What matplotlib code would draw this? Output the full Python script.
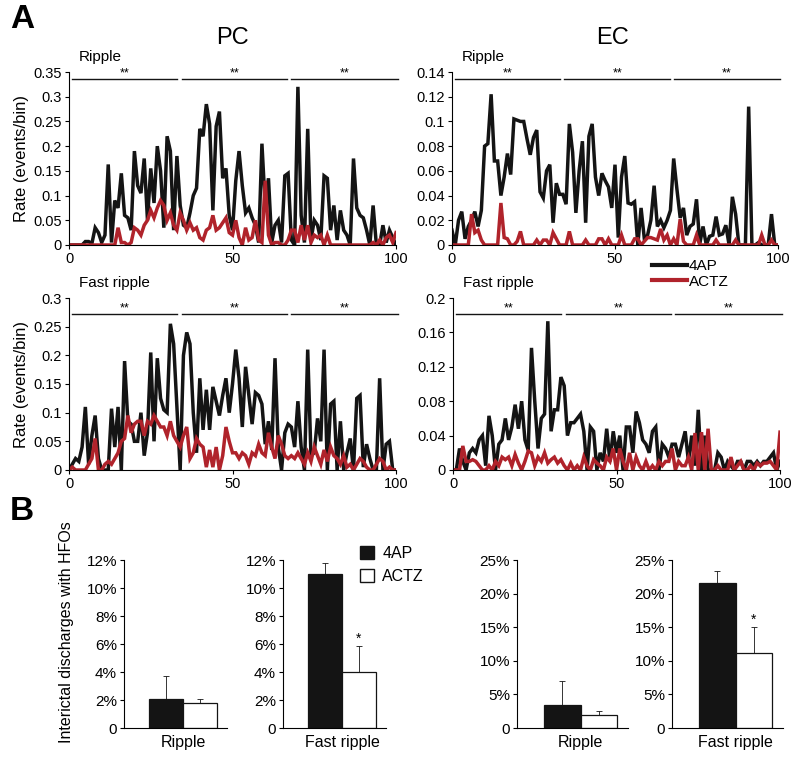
"""
HFO rate per bin (PC / EC) and fraction of interictal discharges with HFOs
"""

import numpy as np
import matplotlib
matplotlib.use("Agg")
import matplotlib.pyplot as plt
from matplotlib.lines import Line2D
from matplotlib.patches import Patch

plt.rcParams["font.family"] = ["Liberation Sans", "DejaVu Sans"]
plt.rcParams["font.size"] = 10.5

BLACK = "#141414"
RED = "#b0232b"

# bins 0..100
bins = np.arange(101)

pc_ripple_4ap = [
    0, 0, 0, 0, 0, 0.007, 0.007, 0.003, 0.035, 0.025,
    0.005, 0.02, 0.163, 0.005, 0.09, 0.075, 0.145, 0.06, 0.055, 0.03,
    0.19, 0.12, 0.105, 0.175, 0.05, 0.155, 0.085, 0.2, 0.15, 0.035,
    0.22, 0.19, 0.03, 0.18, 0.08, 0.04, 0.035, 0.065, 0.1, 0.115,
    0.235, 0.22, 0.285, 0.245, 0.07, 0.24, 0.27, 0.135, 0.155, 0.06,
    0.03, 0.13, 0.19, 0.12, 0.065, 0.075, 0.055, 0.04, 0.005, 0.205,
    0.08, 0.135, 0.005, 0.04, 0.05, 0.005, 0.14, 0.145, 0.01, 0.0,
    0.32, 0.06, 0.005, 0.235, 0.01, 0.05, 0.04, 0.01, 0.14, 0.135,
    0.03, 0.08, 0.01, 0.07, 0.03, 0.02, 0.0, 0.175, 0.075, 0.06,
    0.055, 0.03, 0.0, 0.08, 0.0, 0.0, 0.04, 0.005, 0.03, 0.015,
    0.0,
]
pc_ripple_actz = [
    0, 0, 0, 0, 0, 0, 0, 0, 0, 0,
    0, 0, 0, 0, 0, 0.035, 0.005, 0.005, 0.0, 0.005,
    0.035, 0.03, 0.02, 0.04, 0.05, 0.07, 0.055, 0.075, 0.09, 0.08,
    0.05, 0.065, 0.04, 0.03, 0.065, 0.05, 0.03, 0.045, 0.03, 0.035,
    0.015, 0.01, 0.03, 0.035, 0.06, 0.03, 0.035, 0.045, 0.055, 0.025,
    0.02, 0.05, 0.015, 0.0, 0.035, 0.01, 0.015, 0.05, 0.01, 0.005,
    0.13, 0.02, 0.0, 0.005, 0.005, 0.0, 0.0, 0.01, 0.03, 0.03,
    0.005, 0.04, 0.01, 0.04, 0.005, 0.02, 0.015, 0.02, 0.0, 0.02,
    0, 0, 0, 0, 0, 0, 0, 0, 0, 0,
    0, 0, 0, 0.005, 0.0, 0.01, 0.0, 0.015, 0.02, 0.005,
    0.025,
]

ec_ripple_4ap = [
    0.012, 0.0, 0.02, 0.027, 0.005, 0.015, 0.02, 0.027, 0.015, 0.028,
    0.08, 0.082, 0.122, 0.068, 0.068, 0.04, 0.055, 0.074, 0.057, 0.102,
    0.101, 0.1, 0.1, 0.086, 0.073, 0.087, 0.093, 0.043, 0.038, 0.06,
    0.065, 0.018, 0.05, 0.041, 0.041, 0.033, 0.098, 0.075, 0.026, 0.06,
    0.084, 0.018, 0.088, 0.098, 0.055, 0.04, 0.058, 0.052, 0.047, 0.03,
    0.065, 0.006, 0.055, 0.072, 0.034, 0.033, 0.035, 0.0, 0.03, 0.005,
    0.008, 0.02, 0.048, 0.015, 0.02, 0.014, 0.02, 0.028, 0.07, 0.045,
    0.022, 0.03, 0.008, 0.015, 0.017, 0.037, 0.001, 0.015, 0.0, 0.007,
    0.008, 0.023, 0.008, 0.009, 0.016, 0.0, 0.039, 0.025, 0.0, 0.0,
    0.0, 0.112, 0.0, 0.0, 0.002, 0.0, 0.0, 0.0, 0.025, 0.0,
    0.0,
]
ec_ripple_actz = [
    0, 0, 0, 0, 0, 0, 0.025, 0.01, 0.012, 0.004,
    0, 0, 0, 0, 0, 0.034, 0.006, 0.005, 0.0, 0.0,
    0.003, 0.011, 0.0, 0, 0, 0, 0.004, 0.0, 0.004, 0.004,
    0.0, 0.01, 0.005, 0, 0, 0, 0.011, 0.0, 0, 0,
    0, 0.004, 0, 0, 0, 0.005, 0.005, 0, 0.005, 0.0,
    0.0, 0, 0.008, 0.0, 0, 0, 0.005, 0.005, 0, 0.003,
    0.006, 0.006, 0.005, 0.004, 0.013, 0.004, 0.008, 0.0, 0.005, 0.0,
    0.021, 0.003, 0, 0, 0, 0.008, 0, 0, 0, 0,
    0, 0.004, 0, 0, 0, 0, 0, 0.004, 0, 0,
    0, 0, 0, 0, 0, 0.008, 0.0, 0, 0.004, 0,
    0,
]

pc_fast_4ap = [
    0, 0.01, 0.02, 0.015, 0.04, 0.11, 0.01, 0.06, 0.095, 0.02,
    0.0, 0.0, 0.0, 0.107, 0.04, 0.11, 0.0, 0.19, 0.085, 0.08,
    0.05, 0.05, 0.1, 0.025, 0.065, 0.205, 0.05, 0.195, 0.125, 0.105,
    0.1, 0.255, 0.22, 0.11, 0.0, 0.2, 0.24, 0.22, 0.1, 0.03,
    0.16, 0.07, 0.14, 0.07, 0.145, 0.12, 0.095, 0.13, 0.16, 0.1,
    0.15, 0.21, 0.16, 0.075, 0.18, 0.13, 0.08, 0.135, 0.13, 0.115,
    0.045, 0.085, 0.035, 0.195, 0.04, 0.0, 0.065, 0.08, 0.075, 0.04,
    0.12, 0.04, 0.0, 0.21, 0.025, 0.03, 0.09, 0.05, 0.21, 0.0,
    0.115, 0.12, 0.0, 0.085, 0.0, 0.03, 0.055, 0.0, 0.125, 0.13,
    0.005, 0.045, 0.02, 0.0, 0.0, 0.16, 0.0, 0.045, 0.05, 0.0,
    0.0,
]
pc_fast_actz = [
    0, 0.005, 0.0, 0.0, 0.0, 0.0, 0.01, 0.02, 0.055, 0.0,
    0.0, 0.01, 0.015, 0.01, 0.02, 0.03, 0.05, 0.055, 0.095, 0.065,
    0.08, 0.085, 0.085, 0.06, 0.085, 0.08, 0.095, 0.085, 0.075, 0.075,
    0.06, 0.085, 0.06, 0.05, 0.04, 0.06, 0.075, 0.02, 0.03, 0.055,
    0.045, 0.04, 0.005, 0.035, 0.005, 0.04, 0.0, 0.025, 0.075, 0.05,
    0.03, 0.03, 0.02, 0.03, 0.025, 0.01, 0.03, 0.025, 0.045, 0.03,
    0.025, 0.065, 0.04, 0.02, 0.06, 0.045, 0.025, 0.02, 0.025, 0.02,
    0.03, 0.02, 0.01, 0.03, 0.015, 0.04, 0.025, 0.01, 0.035, 0.015,
    0.04, 0.025, 0.02, 0.01, 0.025, 0.005, 0.01, 0.0, 0.01, 0.02,
    0.015, 0.005, 0.0, 0.0, 0.01, 0.02, 0.015, 0.0, 0.005, 0.0,
    0.0,
]

ec_fast_4ap = [
    0.0, 0.0, 0.025, 0.01, 0.0, 0.02, 0.025, 0.02, 0.035, 0.04,
    0.005, 0.063, 0.04, 0.0, 0.03, 0.035, 0.06, 0.035, 0.05, 0.076,
    0.048, 0.08, 0.035, 0.023, 0.142, 0.08, 0.025, 0.06, 0.065, 0.173,
    0.045, 0.07, 0.07, 0.108, 0.098, 0.04, 0.055, 0.055, 0.06, 0.065,
    0.045, 0.0, 0.05, 0.045, 0.0, 0.02, 0.01, 0.048, 0.01, 0.045,
    0.02, 0.04, 0.0, 0.05, 0.05, 0.02, 0.068, 0.055, 0.035, 0.03,
    0.02, 0.045, 0.05, 0.0, 0.03, 0.025, 0.015, 0.03, 0.03, 0.015,
    0.03, 0.045, 0.01, 0.04, 0.005, 0.07, 0.0, 0.04, 0.0, 0.0,
    0.0, 0.02, 0.015, 0.0, 0.01, 0.005, 0.0, 0.01, 0.01, 0.0,
    0.01, 0.01, 0.005, 0.01, 0.005, 0.01, 0.01, 0.015, 0.02, 0.0,
    0.01,
]
ec_fast_actz = [
    0, 0, 0.0, 0.028, 0.01, 0.01, 0.012, 0.01, 0.005, 0.0,
    0.0, 0.005, 0.0, 0.01, 0.005, 0.015, 0.012, 0.015, 0.005, 0.018,
    0.008, 0.0, 0.01, 0.022, 0.02, 0.005, 0.015, 0.01, 0.02, 0.008,
    0.012, 0.015, 0.008, 0.012, 0.005, 0.0, 0.008, 0.0, 0.005, 0.0,
    0.015, 0.005, 0.0, 0.012, 0.008, 0.005, 0.0, 0.015, 0.01, 0.025,
    0.0, 0.025, 0.01, 0.0, 0.02, 0.0, 0.015, 0.005, 0.0, 0.01,
    0.0, 0.005, 0.0, 0.01, 0.005, 0.01, 0.01, 0.025, 0.0, 0.01,
    0.005, 0.005, 0.015, 0.0, 0.043, 0.0, 0.044, 0.0, 0.048, 0.0,
    0.0, 0.005, 0.0, 0.0, 0.0, 0.015, 0.0, 0.005, 0.01, 0.0,
    0.0, 0.005, 0.0, 0.008, 0.005, 0.008, 0.008, 0.01, 0.005, 0.0,
    0.044,
]

# significance segments (bin ranges) over each third of the recording
sig_segments = [(1, 33), (34.5, 66.8), (68, 100.5)]

# panel B: mean and upper error (fraction)
groups = ["4AP", "ACTZ"]
pc_ripple_mean = [0.0205, 0.018]
pc_ripple_err = [0.0165, 0.003]
pc_fast_mean = [0.110, 0.040]
pc_fast_err = [0.008, 0.0185]
ec_ripple_mean = [0.034, 0.020]
ec_ripple_err = [0.036, 0.006]
ec_fast_mean = [0.216, 0.111]
ec_fast_err = [0.018, 0.039]


def px(left, top, right, bottom):
    # pixel box -> figure fraction rect
    W, H = 800.0, 757.0
    return [left / W, 1 - bottom / H, (right - left) / W, (bottom - top) / H]


def style_axes(ax):
    for s in ["top", "right"]:
        ax.spines[s].set_visible(False)
    ax.tick_params(direction="out", length=3, width=0.8, pad=2)


def rate_panel(ax, y4, ya, ymax, ystep, label, sig_y, yfmt):
    ax.plot(bins, y4, color=BLACK, lw=2.5, solid_joinstyle="miter")
    ax.plot(bins, ya, color=RED, lw=2.5, solid_joinstyle="miter")
    ax.set_xlim(0, 100)
    ax.set_ylim(0, ymax)
    ax.set_xticks([0, 50, 100])
    ticks = np.arange(0, ymax + ystep / 2, ystep)
    ax.set_yticks(ticks)
    ax.set_yticklabels([yfmt(t) for t in ticks])
    style_axes(ax)
    ax.text(0.03, 1.045, label, transform=ax.transAxes, fontsize=11, ha="left", va="bottom")
    for a, b in sig_segments:
        ax.plot([a, b], [sig_y, sig_y], color=BLACK, lw=1.0, clip_on=False)
        ax.text((a + b) / 2, sig_y, "**", ha="center", va="bottom", fontsize=9)


def fmt_dec(t):
    if t == 0:
        return "0"
    return ("%.2f" % t).rstrip("0").rstrip(".")


def bar_panel(ax, means, errs, ymax, ystep, label, star):
    ax.bar([0, 1], means, width=1.0, color=[BLACK, "white"], edgecolor=BLACK,
           linewidth=0.9, zorder=2)
    ax.errorbar([0, 1], means, yerr=[[0, 0], errs], fmt="none", ecolor=BLACK,
                elinewidth=0.6, capsize=2, capthick=0.6, zorder=1)
    if star:
        ax.text(1, means[1] + errs[1], "*", ha="center", va="bottom", fontsize=10)
    ax.set_xlim(-1.24, 1.8)
    ax.set_ylim(0, ymax)
    ticks = np.arange(0, ymax + ystep / 2, ystep)
    ax.set_yticks(ticks)
    ax.set_yticklabels(["0" if t == 0 else "%d%%" % round(t * 100) for t in ticks], fontsize=11)
    ax.set_xticks([0.5])
    ax.set_xticklabels([label], fontsize=11.5)
    style_axes(ax)
    ax.tick_params(axis="x", length=0, pad=5)


if __name__ == "__main__":
    fig = plt.figure(figsize=(8, 7.57), dpi=100)

    ax1 = fig.add_axes(px(69, 72, 396, 245))
    ax2 = fig.add_axes(px(452, 72, 778, 245))
    ax3 = fig.add_axes(px(69, 298, 396, 470))
    ax4 = fig.add_axes(px(453, 298, 780, 470))

    rate_panel(ax1, pc_ripple_4ap, pc_ripple_actz, 0.35, 0.05, "Ripple", 0.335, fmt_dec)
    rate_panel(ax2, ec_ripple_4ap, ec_ripple_actz, 0.14, 0.02, "Ripple", 0.134, fmt_dec)
    rate_panel(ax3, pc_fast_4ap, pc_fast_actz, 0.3, 0.05, "Fast ripple", 0.272, fmt_dec)
    rate_panel(ax4, ec_fast_4ap, ec_fast_actz, 0.2, 0.04, "Fast ripple", 0.181, fmt_dec)

    ax1.set_ylabel("Rate (events/bin)", fontsize=12, labelpad=3)
    ax3.set_ylabel("Rate (events/bin)", fontsize=12, labelpad=3)

    fig.text(232 / 800, 1 - 38 / 757, "PC", fontsize=17, ha="center", va="center")
    fig.text(612 / 800, 1 - 38 / 757, "EC", fontsize=17, ha="center", va="center")
    fig.text(10 / 800, 1 - 20 / 757, "A", fontsize=24, fontweight="bold", ha="left", va="center")
    fig.text(10 / 800, 1 - 511 / 757, "B", fontsize=24, fontweight="bold", ha="left", va="center")

    line_handles = [Line2D([], [], color=BLACK, lw=3), Line2D([], [], color=RED, lw=3)]
    fig.legend(line_handles, groups, loc="center left", bbox_to_anchor=(652 / 800, 1 - 274 / 757),
               frameon=False, fontsize=11, handlelength=2.3, handletextpad=0.1,
               labelspacing=0.1, borderpad=0, borderaxespad=0)

    bx1 = fig.add_axes(px(124, 560, 227, 728))
    bx2 = fig.add_axes(px(283, 560, 386, 728))
    bx3 = fig.add_axes(px(517, 560, 628, 728))
    bx4 = fig.add_axes(px(672, 560, 783, 728))

    bar_panel(bx1, pc_ripple_mean, pc_ripple_err, 0.12, 0.02, "Ripple", False)
    bar_panel(bx2, pc_fast_mean, pc_fast_err, 0.12, 0.02, "Fast ripple", True)
    bar_panel(bx3, ec_ripple_mean, ec_ripple_err, 0.25, 0.05, "Ripple", False)
    bar_panel(bx4, ec_fast_mean, ec_fast_err, 0.25, 0.05, "Fast ripple", True)

    fig.text(67 / 800, 1 - 632 / 757, "Interictal discharges with HFOs", rotation=90,
             fontsize=11.5, ha="center", va="center")

    bar_handles = [Patch(facecolor=BLACK, edgecolor=BLACK),
                   Patch(facecolor="white", edgecolor=BLACK)]
    fig.legend(bar_handles, groups, loc="upper left", bbox_to_anchor=(360 / 800, 1 - 546 / 757),
               frameon=False, fontsize=11.5, handlelength=0.9, handleheight=0.9,
               handletextpad=0.5, labelspacing=0.5, borderpad=0, borderaxespad=0)

    fig.savefig("out.png", dpi=100)
